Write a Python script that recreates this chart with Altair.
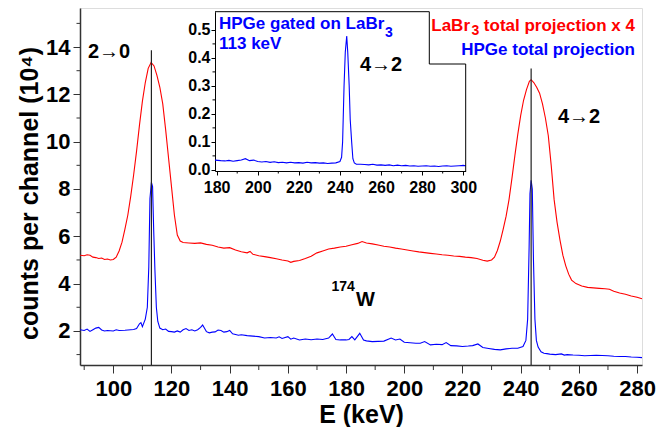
import altair as alt
import pandas as pd

# ---------------- data ----------------
red_E = [88.6, 90, 91, 92, 93, 94, 95, 96, 97, 98, 99, 100, 101, 102, 103, 104, 105, 106, 107, 108,
         109, 110, 111, 112, 113, 114, 115, 116, 117, 118, 119, 120, 121, 122, 123, 124, 126, 128, 130,
         132, 134, 136, 138, 140, 142, 144, 146, 147, 148, 150, 152, 154, 156, 158, 160, 161, 162, 164,
         166, 168, 170, 172, 174, 176, 178, 180, 182, 184, 185.5, 187, 189, 191, 193, 195, 197, 199,
         201, 203, 205, 207, 209, 211, 213, 215, 217, 219, 221, 223, 225, 227, 228.5, 230, 231, 232,
         233, 234, 235, 236, 237, 238, 239, 240, 241, 242, 243, 243.6, 244.5, 245.5, 246.5, 247.5,
         248.5, 249.5, 250.5, 251.5, 252.5, 253.5, 254.5, 255.5, 256.5, 257.5, 259, 261, 263, 265,
         267, 269, 270.5, 272, 274, 276, 278, 280, 281.7]
red_counts = [5.20, 5.18, 5.22, 5.20, 5.12, 5.10, 5.06, 5.08, 5.02, 5.04, 5.00, 5.02, 5.12, 5.38, 5.75,
              6.30, 6.90, 7.70, 8.60, 9.60, 10.7, 11.7, 12.5, 13.1, 13.35, 13.2, 12.8, 12.3, 11.6, 10.5,
              9.3, 8.1, 6.9, 6.05, 5.80, 5.74, 5.72, 5.70, 5.72, 5.66, 5.62, 5.55, 5.50, 5.52, 5.42,
              5.35, 5.30, 5.36, 5.24, 5.18, 5.14, 5.10, 5.05, 5.00, 4.96, 4.90, 4.94, 4.98, 5.06, 5.16,
              5.30, 5.38, 5.46, 5.50, 5.55, 5.58, 5.64, 5.70, 5.78, 5.72, 5.68, 5.63, 5.58, 5.55, 5.50,
              5.46, 5.42, 5.38, 5.34, 5.31, 5.28, 5.25, 5.22, 5.20, 5.17, 5.15, 5.12, 5.10, 5.06, 4.99,
              4.95, 5.00, 5.12, 5.40, 5.80, 6.30, 6.85, 7.55, 8.45, 9.40, 10.3, 11.1, 11.75, 12.2, 12.55,
              12.62, 12.5, 12.3, 12.05, 11.6, 11.0, 10.25, 9.0, 7.55, 6.6, 5.85, 5.2, 4.75, 4.40, 4.15,
              4.00, 3.90, 3.84, 3.82, 3.80, 3.78, 3.76, 3.68, 3.60, 3.55, 3.48, 3.42, 3.36]

blue_E = [88.6, 90, 91, 92, 93, 94, 95, 96, 97, 98, 100, 101, 102, 104, 106, 107, 108, 109, 109.5, 110,
          111, 111.7, 112.2, 112.6, 113.1, 113.5, 113.9, 114.3, 114.8, 115.3, 116, 117, 118, 119, 120,
          121, 122, 123, 124, 125, 126, 127, 128, 129, 130, 130.7, 131.5, 132, 133, 134, 135, 136, 137,
          138, 139, 140, 141, 142, 143, 144, 146, 148, 150, 152, 154, 156, 157, 158, 160, 161, 162, 164,
          165, 166, 168, 170, 172, 174, 175.3, 176.5, 178, 180, 181, 182, 183, 184.7, 186, 187, 189, 191,
          193, 195.5, 197, 198.5, 200, 202, 204, 205.5, 207, 209, 211, 213, 214.4, 216, 218, 220, 222,
          223.5, 225.3, 227, 229, 231, 233, 235, 237, 239, 240.8, 241.8, 242.4, 242.9, 243.2, 243.6,
          244.0, 244.4, 244.9, 245.4, 246, 247, 248, 249, 250, 252, 254, 255, 256, 258, 260, 262, 264,
          266, 268, 270, 272, 274, 276, 278, 280, 281.7]
blue_counts = [2.05, 2.02, 2.08, 1.98, 2.05, 2.12, 2.15, 2.04, 2.00, 2.02, 2.00, 2.05, 2.02, 2.03, 2.05,
               2.06, 2.10, 2.30, 2.35, 2.18, 2.50, 3.00, 4.70, 7.60, 8.28, 8.10, 6.20, 4.60, 3.00, 2.40,
               2.12, 2.05, 2.08, 1.98, 1.97, 1.95, 2.00, 1.95, 2.05, 2.10, 2.02, 2.05, 2.00, 2.05, 2.15,
               2.25, 2.08, 1.97, 1.92, 1.95, 1.96, 2.04, 2.02, 1.95, 1.97, 2.02, 1.88, 1.85, 1.82, 1.84,
               1.80, 1.78, 1.76, 1.70, 1.72, 1.70, 1.75, 1.68, 1.76, 1.65, 1.70, 1.62, 1.64, 1.66, 1.63,
               1.66, 1.64, 1.70, 1.87, 1.64, 1.62, 1.62, 1.64, 1.76, 1.62, 1.90, 1.62, 1.58, 1.55, 1.56,
               1.57, 1.70, 1.62, 1.66, 1.52, 1.50, 1.48, 1.48, 1.55, 1.41, 1.44, 1.42, 1.51, 1.38, 1.37,
               1.34, 1.36, 1.38, 1.45, 1.30, 1.26, 1.22, 1.20, 1.24, 1.27, 1.27, 1.34, 1.60, 2.50, 5.50,
               7.80, 8.37, 8.00, 5.00, 2.50, 1.60, 1.32, 1.12, 1.06, 1.04, 1.02, 1.00, 1.03, 0.98, 1.00,
               0.98, 0.97, 0.95, 0.96, 0.97, 0.96, 0.95, 0.93, 0.92, 0.92, 0.90, 0.89, 0.87]

inset_E = [179.2, 182, 184, 186, 188, 190, 192, 194, 196, 198, 200, 202, 204, 206, 208, 210, 212, 214,
           216, 218, 220, 222, 224, 226, 228, 230, 232, 234, 236, 238, 240, 240.8, 241.3, 242.0, 242.6,
           243.3, 243.8, 244.5, 245.0, 245.7, 246.3, 247, 248, 250, 252, 254, 256, 258, 260, 262, 264,
           266, 268, 270, 272, 274, 276, 278, 280, 282, 284, 286, 288, 290, 292, 294, 296, 298, 300, 301.2]
inset_counts = [0.035, 0.033, 0.032, 0.034, 0.031, 0.033, 0.035, 0.040, 0.033, 0.035, 0.030, 0.028,
                0.030, 0.027, 0.029, 0.026, 0.027, 0.025, 0.027, 0.025, 0.026, 0.024, 0.027, 0.025,
                0.026, 0.024, 0.025, 0.023, 0.024, 0.025, 0.030, 0.045, 0.100, 0.300, 0.420, 0.478,
                0.420, 0.300, 0.180, 0.100, 0.040, 0.025, 0.020, 0.020, 0.019, 0.018, 0.020, 0.017,
                0.018, 0.016, 0.018, 0.015, 0.017, 0.015, 0.016, 0.014, 0.015, 0.013, 0.014, 0.015,
                0.013, 0.014, 0.012, 0.014, 0.015, 0.013, 0.014, 0.015, 0.016, 0.015]

peak_E = [113.1, 243.6]
peak_top = [13.86, 13.09]

main_x_ticks = [100, 120, 140, 160, 180, 200, 220, 240, 260, 280]
main_x_minor = [90, 110, 130, 150, 170, 190, 210, 230, 250, 270]
main_y_ticks = [2, 4, 6, 8, 10, 12, 14]
main_y_minor = [1, 3, 5, 7, 9, 11, 13, 15]
inset_x_ticks = [180, 200, 220, 240, 260, 280, 300]
inset_x_minor = [190, 210, 230, 250, 270, 290]
inset_y_ticks = [0.0, 0.1, 0.2, 0.3, 0.4, 0.5]
inset_y_minor = [0.05, 0.15, 0.25, 0.35, 0.45]

# ---------------- layout ----------------
W, H = 562, 357
FONT = "Liberation Sans"
RED = "#ff0000"
BLUE = "#0000ff"
AX = "#333333"

xs = alt.Scale(domain=[88.56, 281.7], nice=False, zero=False)
ys = alt.Scale(domain=[0.56, 15.65], nice=False, zero=False)

main_x_axis = alt.Axis(
    orient="bottom", values=main_x_ticks, title="E (keV)", grid=False,
    labelFont=FONT, labelFontSize=22, labelFontWeight="bold", labelColor="black",
    labelFlush=False, labelOverlap=False, labelPadding=5,
    tickSize=8, tickColor=AX, tickWidth=1, domainColor=AX, domainWidth=1.5,
    titleFont=FONT, titleFontSize=25, titleFontWeight="bold", titleColor="black",
    titleX=281, titleY=57, titleBaseline="alphabetic", titleAlign="center")
main_y_axis = alt.Axis(
    orient="left", values=main_y_ticks, title="counts per channel (10⁴)", grid=False,
    labelFont=FONT, labelFontSize=22, labelFontWeight="bold", labelColor="black",
    labelFlush=False, labelOverlap=False, labelPadding=3,
    tickSize=7, tickColor=AX, tickWidth=1, domainColor=AX, domainWidth=1.5,
    titleFont=FONT, titleFontSize=25, titleFontWeight="bold", titleColor="black",
    titleX=-43, titleY=185, titleBaseline="alphabetic", titleAlign="center", titleAngle=270)

X = alt.X("E:Q", scale=xs, axis=main_x_axis)
Y = alt.Y("c:Q", scale=ys, axis=main_y_axis)

red_df = pd.DataFrame({"E": red_E, "c": red_counts})
blue_df = pd.DataFrame({"E": blue_E, "c": blue_counts})
peak_df = pd.DataFrame({"E": peak_E, "c": peak_top})

red = alt.Chart(red_df).mark_line(color=RED, strokeWidth=1.1).encode(x=X, y=Y)
blue = alt.Chart(blue_df).mark_line(color=BLUE, strokeWidth=1.1).encode(x=X, y=Y)
peaks = alt.Chart(peak_df).mark_rule(color="#222222", strokeWidth=1.2).encode(
    x=X, y=Y, y2=alt.value(H))

xminor = alt.Chart(pd.DataFrame({"E": main_x_minor})).mark_rule(color=AX, strokeWidth=1).encode(
    x=X, y=alt.value(H + 1), y2=alt.value(H + 5))
yminor = alt.Chart(pd.DataFrame({"c": main_y_minor})).mark_rule(color=AX, strokeWidth=1).encode(
    y=Y, x=alt.value(-3.5), x2=alt.value(0))


def label(text, x, y, size, color="black", align="left"):
    return alt.Chart(pd.DataFrame({"t": [text]})).mark_text(
        font=FONT, fontSize=size, fontWeight="bold", color=color, align=align, baseline="middle"
    ).encode(text="t:N", x=alt.value(x), y=alt.value(y))


texts = [
    label("2→0", 8, 44, 20),
    label("4→2", 478, 109, 20),
    label("4→2", 280, 57, 20),
    label("174", 251.5, 279, 14),
    label("W", 276, 292, 20),
    label("HPGe gated on LaBr", 139, 16, 17, BLUE),
    label("3", 305, 24.5, 14, BLUE),
    label("113 keV", 139, 35.5, 17, BLUE),
    label("total projection x 4", 555, 18, 17, RED, "right"),
    label("LaBr", 390, 18, 17, RED, "right"),
    label("3", 391.5, 23, 14, RED),
    label("HPGe total projection", 555, 42, 17, BLUE, "right"),
]

main = alt.layer(red, blue, peaks, xminor, yminor, *texts)

# ---------------- inset ----------------
IX0, IX1 = 135, 385.7
IY0, IY1 = 3.7, 163
ixs = alt.Scale(domain=[179.2, 301.2], range=[IX0, IX1], nice=False, zero=False)
iys = alt.Scale(domain=[-0.004, 0.565], range=[IY1, IY0], nice=False, zero=False)

inset_x_axis = alt.Axis(
    orient="bottom", offset=IY1 - H, values=inset_x_ticks, title=None, grid=False,
    labelFont=FONT, labelFontSize=16, labelFontWeight="bold", labelColor="black",
    labelFlush=False, labelOverlap=False, labelPadding=4,
    tickSize=4, tickColor="black", tickWidth=1, domainColor="black", domainWidth=1)
inset_y_axis = alt.Axis(
    orient="left", offset=-IX0, values=inset_y_ticks, format=".1f", title=None, grid=False,
    labelFont=FONT, labelFontSize=16, labelFontWeight="bold", labelColor="black",
    labelFlush=False, labelOverlap=False, labelPadding=1,
    tickSize=4, tickColor="black", tickWidth=1, domainColor="black", domainWidth=1)

IX = alt.X("E:Q", scale=ixs, axis=inset_x_axis)
IY = alt.Y("c:Q", scale=iys, axis=inset_y_axis)

inset_line = alt.Chart(pd.DataFrame({"E": inset_E, "c": inset_counts})).mark_line(
    color=BLUE, strokeWidth=1.1).encode(x=IX, y=IY)
ixminor = alt.Chart(pd.DataFrame({"E": inset_x_minor})).mark_rule(color="black", strokeWidth=1).encode(
    x=IX, y=alt.value(IY1), y2=alt.value(IY1 + 2.5))
iyminor = alt.Chart(pd.DataFrame({"c": inset_y_minor})).mark_rule(color="black", strokeWidth=1).encode(
    y=IY, x=alt.value(IX0 - 2.5), x2=alt.value(IX0))


def edge(x1, y1, x2, y2):
    return alt.Chart(pd.DataFrame({"k": [0]})).mark_rule(color="black", strokeWidth=1).encode(
        x=alt.value(x1), y=alt.value(y1), x2=alt.value(x2), y2=alt.value(y2))


STEP_X, STEP_Y = 349.3, 56
border = [
    edge(IX0, IY0, STEP_X, IY0),
    edge(STEP_X, IY0, STEP_X, STEP_Y),
    edge(STEP_X, STEP_Y, IX1, STEP_Y),
    edge(IX1, STEP_Y, IX1, IY1),
]

inset = alt.layer(inset_line, ixminor, iyminor, *border)

chart = alt.layer(main, inset).resolve_scale(x="independent", y="independent").properties(
    width=W, height=H,
    padding={"left": 80, "top": 8, "right": 29, "bottom": 62},
    autosize=alt.AutoSizeParams(type="none"),
).configure_view(stroke="#808080", strokeWidth=2).configure(background="white")

chart.save("out.html", embed_options={"renderer": "svg", "actions": False})
